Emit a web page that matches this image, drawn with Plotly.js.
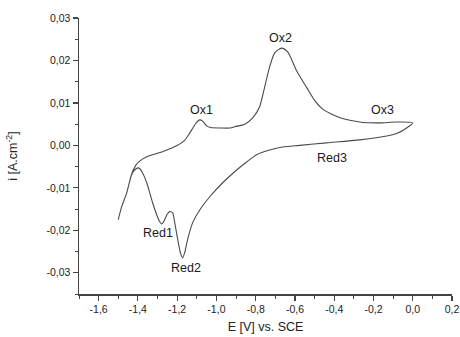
<!DOCTYPE html>
<html>
<head>
<meta charset="utf-8">
<script src="https://cdn.plot.ly/plotly-3.0.1.min.js"></script>
<style>html,body{margin:0;padding:0;background:#fff;}#chart{width:460px;height:337px;}</style>
</head>
<body>
<div id="chart"></div>
<script>
// Cyclic voltammogram: cathodic (lower) branch from 0.0 V to -1.5 V, then anodic (upper) branch back to 0.0 V
const potential = [
  0.0, -0.031, -0.076, -0.132, -0.27, -0.438, -0.576, -0.662, -0.729, -0.795, -0.846, -0.897, -0.968,
  -1.034, -1.085, -1.121, -1.147, -1.162, -1.172, -1.182, -1.197, -1.213, -1.223, -1.238, -1.253,
  -1.269, -1.279, -1.294, -1.325, -1.355, -1.376, -1.396, -1.417, -1.432, -1.457, -1.483, -1.5,
  -1.483, -1.457, -1.432, -1.411, -1.391, -1.36, -1.325, -1.264, -1.203, -1.162, -1.136, -1.106,
  -1.085, -1.07, -1.05, -1.03, -0.98, -0.93, -0.907, -0.856, -0.815, -0.78, -0.754, -0.729, -0.703,
  -0.668, -0.637, -0.591, -0.54, -0.5, -0.46, -0.42, -0.37, -0.32, -0.255, -0.168, -0.082, 0.0
];
const current = [
  0.0053, 0.0041, 0.0029, 0.0022, 0.0013, 0.0006, 0.0, -0.0004, -0.0011, -0.0022, -0.0039, -0.0058, -0.0088,
  -0.0121, -0.0152, -0.0182, -0.0222, -0.0253, -0.0265, -0.0255, -0.0222, -0.018, -0.0159, -0.0156, -0.0164,
  -0.018, -0.0185, -0.0175, -0.0135, -0.0088, -0.0065, -0.0053, -0.0058, -0.0069, -0.0112, -0.0145, -0.0175,
  -0.0145, -0.0112, -0.0068, -0.0047, -0.0037, -0.0028, -0.0022, -0.0013, -0.0001, 0.0012, 0.0029, 0.0051,
  0.006, 0.0057, 0.0046, 0.0042, 0.0041, 0.0041, 0.0044, 0.005, 0.0065, 0.0091, 0.0138, 0.0185, 0.0218,
  0.0229, 0.022, 0.0175, 0.0136, 0.0106, 0.0086, 0.0075, 0.0065, 0.0059, 0.0054, 0.0053, 0.0055, 0.0053
];

const peakLabels = ["Ox1", "Ox2", "Ox3", "Red1", "Red2", "Red3"];
const peakLabelX = [-1.075, -0.673, -0.153, -1.30, -1.157, -0.413];
const peakLabelY = [0.0084, 0.0253, 0.0084, -0.0206, -0.0288, -0.0029];

const xTickVals = [-1.6, -1.4, -1.2, -1.0, -0.8, -0.6, -0.4, -0.2, 0.0, 0.2];
const xTickText = ["-1,6", "-1,4", "-1,2", "-1,0", "-0,8", "-0,6", "-0,4", "-0,2", "0,0", "0,2"];
const yTickVals = [-0.03, -0.02, -0.01, 0.0, 0.01, 0.02, 0.03];
const yTickText = ["-0,03", "-0,02", "-0,01", "0,00", "0,01", "0,02", "0,03"];

const fontFam = "Arial, 'Liberation Sans', sans-serif";

const trace = {
  x: potential, y: current, type: "scatter", mode: "lines",
  line: {color: "#4a4a4a", width: 1.1, shape: "spline", smoothing: 0.7},
  hoverinfo: "skip"
};

const annotations = peakLabels.map((t, i) => ({
  x: peakLabelX[i], y: peakLabelY[i], xref: "x", yref: "y", text: t,
  showarrow: false, font: {family: fontFam, size: 12.5, color: "#1a1a1a"}
}));

const axisCommon = {
  showgrid: false, zeroline: false, showline: true, linecolor: "#444", linewidth: 1.5,
  ticks: "outside", ticklen: 5, tickwidth: 1.2, tickcolor: "#444",
  tickfont: {family: fontFam, size: 10.5, color: "#222"},
  tickmode: "array", mirror: false
};

const layout = {
  width: 460, height: 337,
  margin: {l: 79, r: 8, t: 18, b: 43},
  paper_bgcolor: "#fff", plot_bgcolor: "#fff",
  showlegend: false,
  font: {family: fontFam, color: "#222"},
  xaxis: Object.assign({}, axisCommon, {
    range: [-1.7, 0.2], tickvals: xTickVals, ticktext: xTickText,
    minor: {dtick: 0.1, tick0: 0, ticks: "outside", ticklen: 3, tickwidth: 1, tickcolor: "#444", showgrid: false},
    title: {text: "E [V] vs. SCE", font: {family: fontFam, size: 12.5, color: "#222"}, standoff: 8}
  }),
  yaxis: Object.assign({}, axisCommon, {
    range: [-0.035, 0.03], tickvals: yTickVals, ticktext: yTickText,
    minor: {dtick: 0.005, tick0: 0, ticks: "outside", ticklen: 3, tickwidth: 1, tickcolor: "#444", showgrid: false},
    title: {text: "i [A.cm<sup>-2</sup>]", font: {family: fontFam, size: 12.5, color: "#222"}, standoff: 26}
  }),
  annotations: annotations
};

Plotly.newPlot("chart", [trace], layout, {displayModeBar: false, staticPlot: true});
</script>
</body>
</html>
